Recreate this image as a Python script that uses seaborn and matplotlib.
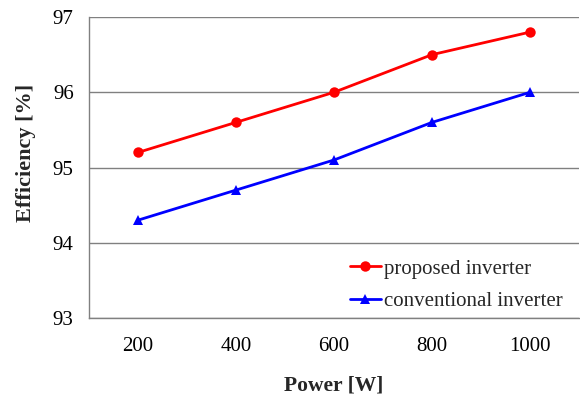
import matplotlib
matplotlib.use("Agg")
import matplotlib.pyplot as plt
import seaborn as sns
import pandas as pd

power = [200, 400, 600, 800, 1000]
proposed = [95.2, 95.6, 96.0, 96.5, 96.8]
conventional = [94.3, 94.7, 95.1, 95.6, 96.0]
series_names = ["proposed inverter", "conventional inverter"]
x_ticks = [200, 400, 600, 800, 1000]
y_ticks = [93, 94, 95, 96, 97]

df = pd.DataFrame({
    "Power": power + power,
    "Efficiency": proposed + conventional,
    "Series": [series_names[0]] * len(power) + [series_names[1]] * len(power),
})

sns.set_style("white")
plt.rcParams['font.family'] = ['Liberation Serif', 'DejaVu Serif']

fig = plt.figure(figsize=(5.8, 3.96), dpi=100)
ax = fig.add_axes([0.1534, 0.197, 0.845, 0.760])

sns.lineplot(data=df, x="Power", y="Efficiency", hue="Series", style="Series",
             palette=["#ff0000", "#0000ff"], markers=["o", "^"], dashes=False,
             markersize=7.5, markeredgewidth=0, linewidth=2, ax=ax)

ax.set_xlim(100, 1100)
ax.set_ylim(93, 97)
ax.set_xticks(x_ticks)
ax.set_yticks(y_ticks)
ax.yaxis.grid(True, color="#808080", linewidth=1)
ax.xaxis.grid(False)
for s in ["top", "right"]:
    ax.spines[s].set_visible(False)
for s in ["left", "bottom"]:
    ax.spines[s].set_color("#808080")
    ax.spines[s].set_linewidth(1)
ax.tick_params(axis="both", labelsize=15, colors="#808080", labelcolor="black",
               length=4, width=1, direction="out")
ax.tick_params(axis="y", pad=7)
ax.tick_params(axis="x", pad=10)
ax.set_xlabel("Power [W]", fontsize=15.5, fontweight="bold", labelpad=14)
ax.set_ylabel("Efficiency [%]", fontsize=16, fontweight="bold")
ax.yaxis.set_label_coords(-0.108, 0.548)

leg = ax.legend(loc="lower right", bbox_to_anchor=(1.005, -0.04), frameon=False,
                fontsize=15, handlelength=1.5, handletextpad=0.15, labelspacing=0.62)

fig.savefig("out.png", dpi=100)
